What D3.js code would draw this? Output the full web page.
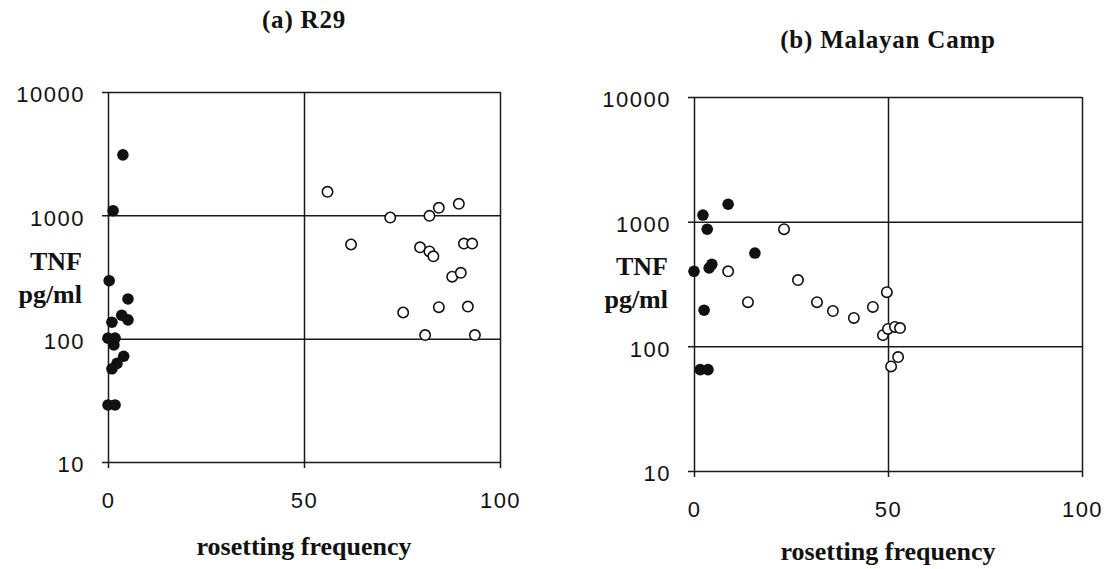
<!DOCTYPE html>
<html>

<head>
    <meta charset="utf-8">
    <style>
        body {
            margin: 0;
            background: white;
        }

        svg {
            display: block;
        }

        .tick text {
            font-family: Arial, "Liberation Sans", sans-serif;
            font-size: 22px;
            letter-spacing: 1.5px;
            fill: #111;
        }

        .title,
        .label {
            font-family: "Times New Roman", "Liberation Serif", serif;
            font-weight: bold;
            fill: #111;
        }
    </style>
</head>

<body>
    <svg width="1105" height="569"></svg>

    <script src="https://d3js.org/d3.v7.min.js"></script>

    <script>
        // tick values
        let yTicks = [10, 100, 1000, 10000];
        let xTicks = [0, 50, 100];

        // (a) R29 : [rosetting frequency, TNF pg/ml]
        let r29Filled = [
            [3.8, 3090], [1.3, 1090], [0.3, 295], [5.1, 210], [1, 136],
            [3.5, 155], [5.1, 142], [0, 101], [1.8, 101], [1.5, 89],
            [4, 72], [2.3, 63], [1, 57], [0, 29], [1.8, 29]
        ];
        let r29Open = [
            [56, 1550], [62, 580], [72, 960], [75.3, 163], [79.6, 550],
            [80.9, 107], [82, 990], [82, 510], [83, 465], [84.4, 1150],
            [84.4, 180], [87.8, 318], [89.5, 1240], [90, 342], [90.8, 590],
            [91.8, 182], [92.9, 590], [93.6, 107]
        ];

        // (b) Malayan Camp
        let malayanFilled = [
            [2.3, 1130], [8.8, 1380], [3.4, 870], [15.7, 560], [0, 400],
            [4.6, 455], [3.9, 425], [2.6, 195], [1.6, 65], [3.6, 65]
        ];
        let malayanOpen = [
            [8.8, 400], [13.9, 226], [23.2, 870], [26.8, 340], [31.7, 226],
            [35.8, 192], [41.2, 169], [46.1, 207], [49.7, 272], [48.7, 123],
            [50, 138], [51.8, 143], [53.1, 140], [52.6, 82], [50.8, 69]
        ];

        let panels = [
            {
                title: "(a) R29", titleY: 28, labelY: 555,
                left: 108, right: 500, top: 92, bottom: 462,
                filled: r29Filled, open: r29Open
            },
            {
                title: "(b) Malayan Camp", titleY: 48, labelY: 560,
                left: 694, right: 1082, top: 97, bottom: 471,
                filled: malayanFilled, open: malayanOpen
            }
        ];

        let svg = d3.select("svg");

        panels.forEach(p => {
            let w = p.right - p.left;
            let h = p.bottom - p.top;

            let x = d3.scaleLinear().domain([0, 100]).range([0, w]);
            let y = d3.scaleLog().domain([10, 10000]).range([h, 0]);

            let g = svg.append("g")
                .attr("transform", "translate(" + p.left + "," + p.top + ")");

            // horizontal grid + y axis
            let yAxis = d3.axisLeft(y)
                .tickValues(yTicks)
                .tickFormat(d3.format("d"))
                .tickSizeInner(-w)
                .tickSizeOuter(0)
                .tickPadding(23);

            let ya = g.append("g").call(yAxis);
            ya.select(".domain").remove();
            ya.selectAll(".tick line")
                .attr("x1", -6)
                .attr("stroke", "#1a1a1a")
                .attr("stroke-width", 1.5);
            ya.selectAll(".tick text").attr("dy", "0.45em");

            // vertical grid + x axis
            let xAxis = d3.axisBottom(x)
                .tickValues(xTicks)
                .tickSizeInner(-h)
                .tickSizeOuter(0)
                .tickPadding(26);

            let xa = g.append("g")
                .attr("transform", "translate(0," + h + ")")
                .call(xAxis);
            xa.select(".domain").remove();
            xa.selectAll(".tick line")
                .attr("y1", 6)
                .attr("stroke", "#1a1a1a")
                .attr("stroke-width", 1.5);
            xa.selectAll(".tick text").attr("dy", "0.9em");

            // points
            g.selectAll(".open")
                .data(p.open)
                .join("circle")
                .attr("class", "open")
                .attr("cx", d => x(d[0]))
                .attr("cy", d => y(d[1]))
                .attr("r", 5.2)
                .style("fill", "white")
                .style("stroke", "#111")
                .style("stroke-width", 1.6);

            g.selectAll(".filled")
                .data(p.filled)
                .join("circle")
                .attr("class", "filled")
                .attr("cx", d => x(d[0]))
                .attr("cy", d => y(d[1]))
                .attr("r", 5.8)
                .style("fill", "#111");

            // title
            svg.append("text")
                .attr("class", "title")
                .attr("x", p.left + w / 2)
                .attr("y", p.titleY)
                .attr("text-anchor", "middle")
                .style("font-size", "25px")
                .style("letter-spacing", "0.8px")
                .text(p.title);

            // y axis label
            let yl = svg.append("text")
                .attr("class", "label")
                .attr("text-anchor", "end")
                .style("font-size", "26px");
            yl.append("tspan")
                .attr("x", p.left - 26)
                .attr("y", p.top + 178)
                .text("TNF");
            yl.append("tspan")
                .attr("x", p.left - 26)
                .attr("y", p.top + 211)
                .text("pg/ml");

            // x axis label
            svg.append("text")
                .attr("class", "label")
                .attr("x", p.left + w / 2)
                .attr("y", p.labelY)
                .attr("text-anchor", "middle")
                .style("font-size", "26px")
                .text("rosetting frequency");
        });
    </script>
</body>

</html>
